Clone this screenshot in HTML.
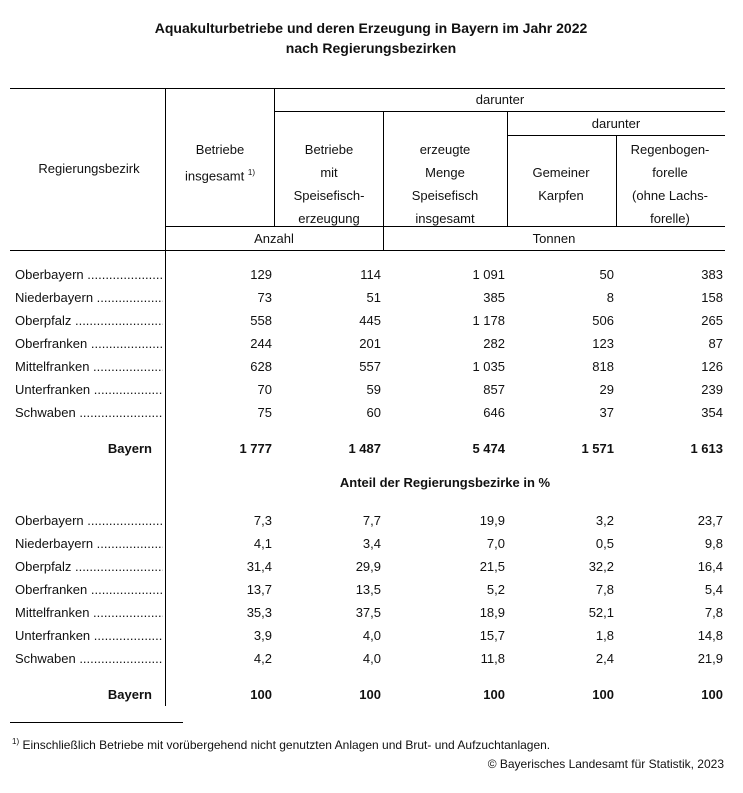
<!DOCTYPE html><html><head><style>
body{margin:0;width:743px;height:793px;background:#fff;font-family:"Liberation Sans",sans-serif;color:#111;position:relative;overflow:hidden}
.t{position:absolute;white-space:nowrap;font-size:13px;line-height:15px}
.c{text-align:center;transform:translateX(-50%)}
.r{transform:translateX(-100%)}
.b{font-weight:bold}
.h{position:absolute;height:1px;background:#000}
.v{position:absolute;width:1px;background:#000}
</style></head><body>
<div class="t c b" style="left:371px;top:21px;font-size:14px">Aquakulturbetriebe und deren Erzeugung in Bayern im Jahr 2022</div>
<div class="t c b" style="left:371px;top:41px;font-size:14px">nach Regierungsbezirken</div>
<div class="h" style="left:10px;top:88px;width:715px"></div>
<div class="h" style="left:274px;top:111px;width:451px"></div>
<div class="h" style="left:507px;top:135px;width:218px"></div>
<div class="h" style="left:165px;top:226px;width:560px"></div>
<div class="h" style="left:10px;top:250px;width:715px"></div>
<div class="v" style="left:165px;top:88px;height:618px"></div>
<div class="v" style="left:274px;top:88px;height:138px"></div>
<div class="v" style="left:383px;top:111px;height:139px"></div>
<div class="v" style="left:507px;top:111px;height:115px"></div>
<div class="v" style="left:616px;top:135px;height:91px"></div>
<div class="t c" style="left:89px;top:161px">Regierungsbezirk</div>
<div class="t c" style="left:220px;top:138px;line-height:23px">Betriebe<br>insgesamt <sup style="font-size:8px">1)</sup></div>
<div class="t c" style="left:329px;top:138px;line-height:23px;text-align:center">Betriebe<br>mit<br>Speisefisch-<br>erzeugung</div>
<div class="t c" style="left:500px;top:92px">darunter</div>
<div class="t c" style="left:445px;top:138px;line-height:23px;text-align:center">erzeugte<br>Menge<br>Speisefisch<br>insgesamt</div>
<div class="t c" style="left:616px;top:116px">darunter</div>
<div class="t c" style="left:561px;top:161px;line-height:23px;text-align:center">Gemeiner<br>Karpfen</div>
<div class="t c" style="left:670px;top:138px;line-height:23px;text-align:center">Regenbogen-<br>forelle<br>(ohne Lachs-<br>forelle)</div>
<div class="t c" style="left:274px;top:231px">Anzahl</div>
<div class="t c" style="left:554px;top:231px">Tonnen</div>
<div class="t c b" style="left:445px;top:475px">Anteil der Regierungsbezirke in %</div>
<div class="h" style="left:10px;top:722px;width:173px"></div>
<div class="t" style="left:12px;top:734px;font-size:12px"><sup style="font-size:8px">1)</sup> Einschließlich Betriebe mit vorübergehend nicht genutzten Anlagen und Brut- und Aufzuchtanlagen.</div>
<div class="t r" style="left:724px;top:757px;font-size:12px">© Bayerisches Landesamt für Statistik, 2023</div>
<div id="d"></div>
<script>
var names=["Oberbayern","Niederbayern","Oberpfalz","Oberfranken","Mittelfranken","Unterfranken","Schwaben"];
var A=[["129","114","1 091","50","383"],["73","51","385","8","158"],["558","445","1 178","506","265"],["244","201","282","123","87"],["628","557","1 035","818","126"],["70","59","857","29","239"],["75","60","646","37","354"]];
var B=[["7,3","7,7","19,9","3,2","23,7"],["4,1","3,4","7,0","0,5","9,8"],["31,4","29,9","21,5","32,2","16,4"],["13,7","13,5","5,2","7,8","5,4"],["35,3","37,5","18,9","52,1","7,8"],["3,9","4,0","15,7","1,8","14,8"],["4,2","4,0","11,8","2,4","21,9"]];
var xs=[272,381,505,614,723],h="";
function block(D,y0,tot,ty){for(var i=0;i<7;i++){var y=y0+i*23;
h+='<div class="t" style="left:15px;top:'+y+'px;width:148px;overflow:hidden">'+names[i]+' ..................................................</div>';
for(var j=0;j<5;j++)h+='<div class="t r" style="left:'+xs[j]+'px;top:'+y+'px">'+D[i][j]+'</div>';}
h+='<div class="t r b" style="left:152px;top:'+ty+'px">Bayern</div>';
for(var j=0;j<5;j++)h+='<div class="t r b" style="left:'+xs[j]+'px;top:'+ty+'px">'+tot[j]+'</div>';}
block(A,267,["1 777","1 487","5 474","1 571","1 613"],441);
block(B,513,["100","100","100","100","100"],687);
document.getElementById("d").innerHTML=h;
</script>
</body></html>
